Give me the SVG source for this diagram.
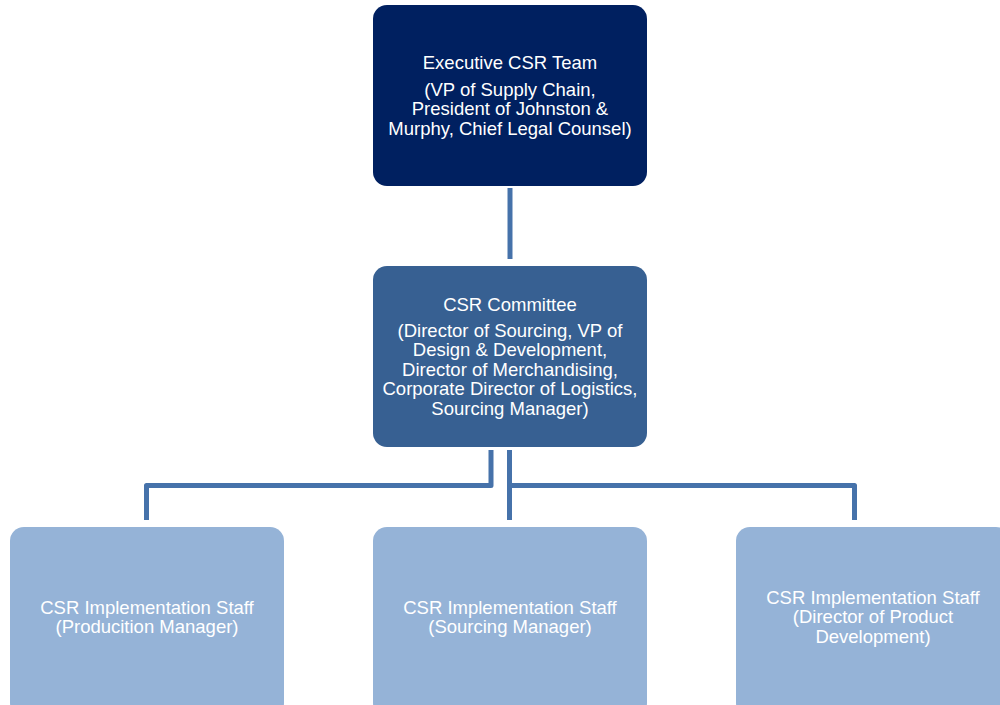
<svg xmlns="http://www.w3.org/2000/svg" width="1000" height="705" viewBox="0 0 1000 705">
  <style>
    .box-exec { fill: #002060; }
    .box-comm { fill: #376092; }
    .box-staff { fill: #95b3d7; }
    .lbl { font-family: "Liberation Sans", Arial, sans-serif; font-size: 18.5px; fill: #ffffff; text-anchor: middle; }
    .conn { fill: none; stroke: #4672aa; stroke-width: 5; stroke-linejoin: round; }
  </style>
  <rect width="1000" height="705" fill="#ffffff"/>

  <!-- connectors -->
  <g id="connectors">
    <line class="conn" x1="510" y1="188" x2="510" y2="259"/>
    <polyline class="conn" points="491,450 491,485.5 146.5,485.5 146.5,520"/>
    <line class="conn" x1="509.5" y1="450" x2="509.5" y2="520"/>
    <polyline class="conn" points="509.5,485.5 854.5,485.5 854.5,520"/>
  </g>

  <g id="exec-team">
    <rect class="box-exec" x="373" y="5" width="274" height="181" rx="14"/>
    <text class="lbl" x="510" y="69">Executive CSR Team</text>
    <text class="lbl" x="510" y="95.5">(VP of Supply Chain,</text>
    <text class="lbl" x="510" y="115">President of Johnston &amp;</text>
    <text class="lbl" x="510" y="134.5">Murphy, Chief Legal Counsel)</text>
  </g>

  <g id="csr-committee">
    <rect class="box-comm" x="373" y="266" width="274" height="181" rx="14"/>
    <text class="lbl" x="510" y="310.5">CSR Committee</text>
    <text class="lbl" x="510" y="336.5">(Director of Sourcing, VP of</text>
    <text class="lbl" x="510" y="356">Design &amp; Development,</text>
    <text class="lbl" x="510" y="375.5">Director of Merchandising,</text>
    <text class="lbl" x="510" y="395">Corporate Director of Logistics,</text>
    <text class="lbl" x="510" y="414.5">Sourcing Manager)</text>
  </g>

  <g id="staff-production">
    <rect class="box-staff" x="10" y="527" width="274" height="190" rx="14"/>
    <text class="lbl" x="147" y="614">CSR Implementation Staff</text>
    <text class="lbl" x="147" y="633">(Producition Manager)</text>
  </g>

  <g id="staff-sourcing">
    <rect class="box-staff" x="373" y="527" width="274" height="190" rx="14"/>
    <text class="lbl" x="510" y="614">CSR Implementation Staff</text>
    <text class="lbl" x="510" y="633">(Sourcing Manager)</text>
  </g>

  <g id="staff-product-dev">
    <rect class="box-staff" x="736" y="527" width="274" height="190" rx="14"/>
    <text class="lbl" x="873" y="603.5">CSR Implementation Staff</text>
    <text class="lbl" x="873" y="623">(Director of Product</text>
    <text class="lbl" x="873" y="642.5">Development)</text>
  </g>
</svg>
